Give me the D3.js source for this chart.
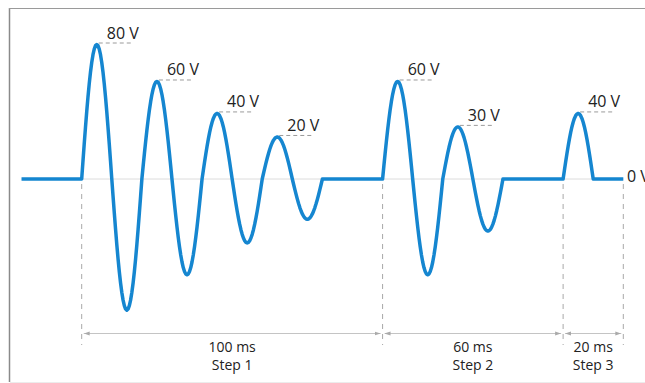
<!DOCTYPE html>
<html>
<head>
<meta charset="utf-8">
<script src="https://cdn.jsdelivr.net/npm/d3@7"></script>
<style>
  body { margin: 0; background: #fff; }
  svg { display: block; }
  text { font-family: "Open Sans", sans-serif; fill: #222; }
</style>
</head>
<body>
<svg class="chart"></svg>
<script>
var width = 645;
var height = 383;

// steps of the pulse train (ms)
var stepNames = ["Step 1", "Step 2", "Step 3"];
var stepStart = [0, 100, 160];
var stepDur = [100, 60, 20];
var halfCycle = 10; // ms per half wave

// peak / trough amplitude of each half wave (V), per step
var step1Lobes = [80, -78, 58, -57, 39, -38, 25, -24];
var step2Lobes = [58, -57, 31, -31];
var step3Lobes = [39];
var lobes = [step1Lobes, step2Lobes, step3Lobes];

// labels written next to the positive peaks
var step1Labels = ["80 V", "60 V", "40 V", "20 V"];
var step2Labels = ["60 V", "30 V"];
var step3Labels = ["40 V"];
var peakLabels = [step1Labels, step2Labels, step3Labels];

var tStart = -20;
var tEnd = 180;

var x = d3.scaleLinear().domain([0, 180]).range([81.7, 623.3]);
var y = d3.scaleLinear().domain([0, 80]).range([179, 44.5]);

var svg = d3.select(".chart")
    .attr("width", width)
    .attr("height", height);

var defs = svg.append("defs");
["start", "end"].forEach(function(k) {
    defs.append("marker")
        .attr("id", "arr-" + k)
        .attr("viewBox", "0 0 6 6")
        .attr("refX", k == "end" ? 6 : 0)
        .attr("refY", 3)
        .attr("markerWidth", 6)
        .attr("markerHeight", 6)
        .attr("markerUnits", "userSpaceOnUse")
        .attr("orient", "auto")
        .append("path")
        .attr("d", k == "end" ? "M0,1L6,3L0,5Z" : "M6,1L0,3L6,5Z")
        .attr("fill", "#aaa");
});

// frame
svg.append("line").attr("x1", 9.5).attr("x2", 9.5).attr("y1", 8).attr("y2", 382)
    .attr("stroke", "#8a8a8a").attr("stroke-width", 1.5);
svg.append("line").attr("x1", 9).attr("x2", width).attr("y1", 8.5).attr("y2", 8.5)
    .attr("stroke", "#9a9a9a").attr("stroke-width", 1);
svg.append("line").attr("x1", 10).attr("x2", width).attr("y1", 382.5).attr("y2", 382.5)
    .attr("stroke", "#ececec").attr("stroke-width", 1);

// zero line
svg.append("line")
    .attr("x1", x(tStart)).attr("x2", x(tEnd))
    .attr("y1", y(0)).attr("y2", y(0))
    .attr("stroke", "#dcdcdc").attr("stroke-width", 1);

// step boundaries
var bounds = stepStart.concat([tEnd]);
svg.selectAll("line.bound")
    .data(bounds)
    .enter()
    .append("line")
    .attr("class", "bound")
    .attr("x1", function(d) { return x(d); })
    .attr("x2", function(d) { return x(d); })
    .attr("y1", y(0) + 5)
    .attr("y2", 345)
    .attr("stroke", "#a8a8a8")
    .attr("stroke-dasharray", "5,5");

// duration arrows + labels
var measY = 333.5;
svg.selectAll("line.meas")
    .data(stepStart)
    .enter()
    .append("line")
    .attr("class", "meas")
    .attr("x1", function(d) { return x(d) + 2; })
    .attr("x2", function(d, i) { return x(d + stepDur[i]) - 2; })
    .attr("y1", measY).attr("y2", measY)
    .attr("stroke", "#c4c4c4")
    .attr("marker-start", "url(#arr-start)")
    .attr("marker-end", "url(#arr-end)");

svg.selectAll("text.dur")
    .data(stepStart)
    .enter()
    .append("text")
    .attr("class", "dur")
    .attr("x", function(d, i) { return x(d + stepDur[i] / 2); })
    .attr("y", 352)
    .attr("text-anchor", "middle")
    .style("font-size", "14px")
    .text(function(d, i) { return stepDur[i] + " ms"; });

svg.selectAll("text.step")
    .data(stepNames)
    .enter()
    .append("text")
    .attr("class", "step")
    .attr("x", function(d, i) { return x(stepStart[i] + stepDur[i] / 2); })
    .attr("y", 370)
    .attr("text-anchor", "middle")
    .style("font-size", "14px")
    .text(function(d) { return d; });

// build the waveform: flat segments plus half-sine lobes
var pts = [[tStart, 0]];
var peaks = [];
lobes.forEach(function(arr, s) {
    var t0 = stepStart[s];
    pts.push([t0, 0]);
    var k = 0;
    arr.forEach(function(a, j) {
        var ta = t0 + j * halfCycle;
        for (var n = 1; n <= 24; n++) {
            pts.push([ta + halfCycle * n / 24, a * Math.sin(Math.PI * n / 24)]);
        }
        if (a > 0) {
            peaks.push({ t: ta + halfCycle / 2, v: a, label: peakLabels[s][k] });
            k++;
        }
    });
    pts.push([t0 + stepDur[s], 0]);
});

var line = d3.line()
    .x(function(d) { return x(d[0]); })
    .y(function(d) { return y(d[1]); });

// peak guides
svg.selectAll("line.guide")
    .data(peaks)
    .enter()
    .append("line")
    .attr("class", "guide")
    .attr("x1", function(d) { return x(d.t) + 2; })
    .attr("x2", function(d) { return x(d.t) + 34; })
    .attr("y1", function(d) { return y(d.v) - 1.5; })
    .attr("y2", function(d) { return y(d.v) - 1.5; })
    .attr("stroke", "#9a9a9a")
    .attr("stroke-dasharray", "4,3");

svg.append("path")
    .datum(pts)
    .attr("d", line)
    .attr("fill", "none")
    .attr("stroke", "#1586d0")
    .attr("stroke-width", 3.5)
    .attr("stroke-linejoin", "round");

svg.selectAll("text.peak")
    .data(peaks)
    .enter()
    .append("text")
    .attr("class", "peak")
    .attr("x", function(d) { return x(d.t) + 10; })
    .attr("y", function(d) { return y(d.v) - 6; })
    .style("font-size", "16px")
    .text(function(d) { return d.label; });

svg.append("text")
    .attr("x", 627)
    .attr("y", y(0) + 3)
    .style("font-size", "16px")
    .text("0 V");
</script>
</body>
</html>
